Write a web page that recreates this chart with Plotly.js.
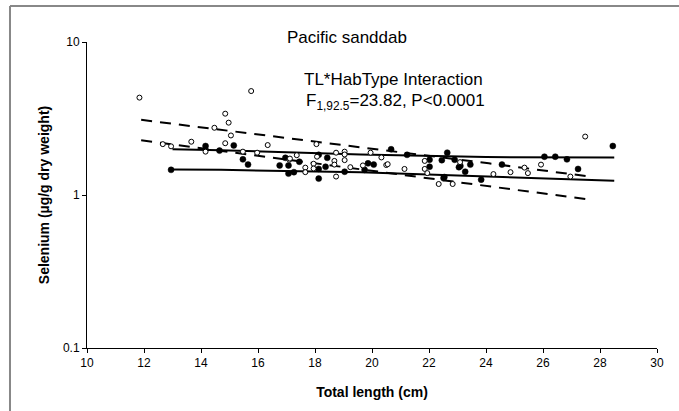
<!DOCTYPE html>
<html>
<head>
<meta charset="utf-8">
<script src="https://cdn.plot.ly/plotly-3.0.1.min.js"></script>
<style>html,body{margin:0;padding:0;background:#fff;}#chart{width:679px;height:411px;}</style>
</head>
<body>
<div id="chart"></div>
<script>
// Open circles (habitat type A)
const openX = [11.84, 15.76, 14.85, 14.97, 14.47, 15.05, 27.48, 12.66, 12.95, 13.66, 14.16, 14.85, 15.47, 15.97, 16.34, 18.05, 19.04, 19.04, 19.95, 20.33, 18.74, 18.07, 17.36, 17.10, 18.68, 18.68, 17.95, 17.95, 17.66, 17.66, 18.74, 19.04, 19.24, 19.68, 20.50, 20.55, 21.14, 21.85, 21.85, 21.94, 22.34, 22.83, 23.09, 24.26, 24.86, 25.35, 25.47, 25.93, 26.96, 17.12];
const openY = [4.33, 4.78, 3.40, 2.97, 2.75, 2.45, 2.41, 2.15, 2.08, 2.23, 1.92, 2.18, 1.92, 1.89, 2.12, 2.15, 1.92, 1.84, 1.89, 1.76, 1.89, 1.78, 1.82, 1.70, 1.67, 1.58, 1.60, 1.49, 1.51, 1.41, 1.32, 1.69, 1.52, 1.56, 1.57, 1.59, 1.48, 1.67, 1.48, 1.39, 1.18, 1.18, 1.64, 1.37, 1.41, 1.51, 1.39, 1.58, 1.32, 1.73];
// Filled circles (habitat type B)
const filledX = [12.95, 14.16, 14.65, 15.15, 15.47, 15.65, 16.76, 16.96, 17.07, 17.07, 17.26, 17.45, 18.13, 18.13, 18.13, 18.37, 18.43, 19.04, 19.74, 19.86, 20.06, 20.67, 21.23, 22.02, 22.02, 22.45, 22.51, 22.64, 22.90, 23.05, 23.27, 23.45, 23.83, 24.56, 26.05, 26.43, 26.84, 27.23, 28.45, 23.10, 22.54];
const filledY = [1.46, 2.09, 1.95, 2.11, 1.71, 1.58, 1.56, 1.75, 1.56, 1.38, 1.41, 1.65, 1.83, 1.48, 1.28, 1.53, 1.75, 1.42, 1.46, 1.61, 1.58, 1.99, 1.83, 1.70, 1.53, 1.69, 1.29, 1.89, 1.70, 1.52, 1.42, 1.58, 1.26, 1.58, 1.78, 1.78, 1.71, 1.48, 2.09, 1.55, 1.31];
// Fitted lines
const solidUpperX = [13, 14.7, 19.6, 24.0, 28.5];
const solidUpperY = [1.99, 1.96, 1.84, 1.77, 1.76];
const solidLowerX = [13, 14.7, 19.6, 24.1, 28.5];
const solidLowerY = [1.47, 1.46, 1.41, 1.32, 1.24];
const dashUpperX = [11.9, 14.7, 19.6, 24.1, 27.5];
const dashUpperY = [3.10, 2.66, 2.05, 1.61, 1.33];
const dashLowerX = [11.9, 27.5];
const dashLowerY = [2.28, 0.94];

const xTicks = [10, 12, 14, 16, 18, 20, 22, 24, 26, 28, 30];
const yTicks = [0.1, 1, 10];
const yTickText = ['0.1', '1', '10'];

const FONT = 'Liberation Sans, Arial, Helvetica, sans-serif';

const traces = [
  {x: solidUpperX, y: solidUpperY, mode: 'lines', line: {color: '#000', width: 2}, hoverinfo: 'skip'},
  {x: solidLowerX, y: solidLowerY, mode: 'lines', line: {color: '#000', width: 2}, hoverinfo: 'skip'},
  {x: dashUpperX, y: dashUpperY, mode: 'lines', line: {color: '#000', width: 2, dash: '11px,8px'}, hoverinfo: 'skip'},
  {x: dashLowerX, y: dashLowerY, mode: 'lines', line: {color: '#000', width: 2, dash: '11px,8px'}, hoverinfo: 'skip'},
  {x: filledX, y: filledY, mode: 'markers', marker: {symbol: 'circle', size: 6, color: '#000', line: {color: '#000', width: 0.5}}},
  {x: openX, y: openY, mode: 'markers', marker: {symbol: 'circle', size: 5, color: '#fff', line: {color: '#000', width: 1}}}
];

const layout = {
  width: 679, height: 411,
  margin: {l: 87, r: 22, t: 42, b: 63},
  paper_bgcolor: '#fff', plot_bgcolor: '#fff',
  showlegend: false,
  font: {family: FONT, color: '#000', size: 12},
  title: {text: 'Pacific sanddab', font: {family: FONT, size: 17, color: '#000'},
          x: 0.456, xref: 'paper', xanchor: 'center', y: 0.91, yref: 'container', yanchor: 'middle'},
  xaxis: {
    range: [10, 30], tickvals: xTicks, ticks: 'outside', ticklen: 4, tickwidth: 1, tickcolor: '#000',
    showline: true, linecolor: '#000', linewidth: 1, showgrid: false, zeroline: false,
    tickfont: {family: FONT, size: 12, color: '#000'},
    title: {text: '<b>Total length (cm)</b>', font: {family: FONT, size: 14, color: '#000'}, standoff: 17}
  },
  yaxis: {
    type: 'log', range: [-1, 1], tickvals: yTicks, ticktext: yTickText, ticks: 'outside', ticklen: 4, tickwidth: 1, tickcolor: '#000',
    showline: true, linecolor: '#000', linewidth: 1, showgrid: false, zeroline: false,
    tickfont: {family: FONT, size: 12, color: '#000'},
    title: {text: '<b>Selenium (µg/g dry weight)</b>', font: {family: FONT, size: 14, color: '#000'}, standoff: 10}
  },
  annotations: [
    {text: 'TL*HabType Interaction', xref: 'paper', yref: 'paper', x: 0.377, y: 0.879, xanchor: 'left', yanchor: 'middle',
     showarrow: false, font: {family: FONT, size: 17, color: '#000'}},
    {text: 'F<sub>1,92.5</sub>=23.82, P&lt;0.0001', xref: 'paper', yref: 'paper', x: 0.38, y: 0.805, xanchor: 'left', yanchor: 'middle',
     showarrow: false, font: {family: FONT, size: 17, color: '#000'}}
  ],
  shapes: [
    {type: 'line', xref: 'paper', yref: 'paper', x0: -0.1351, x1: 1.05, y0: 1.1176, y1: 1.1176, line: {color: '#888', width: 2}},
    {type: 'line', xref: 'paper', yref: 'paper', x0: -0.1351, x1: -0.1351, y0: 1.1176, y1: -0.25, line: {color: '#888', width: 2}}
  ]
};

Plotly.newPlot('chart', traces, layout, {displayModeBar: false, staticPlot: true});
</script>
</body>
</html>
